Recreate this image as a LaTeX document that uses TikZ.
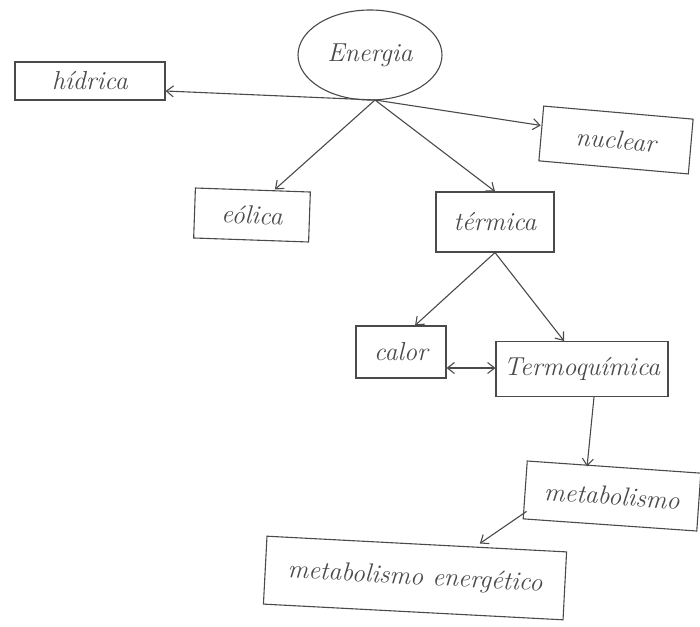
\documentclass[tikz,border=0pt]{standalone}
\usepackage{fontspec}
\usepackage{tikz}
\usetikzlibrary{shapes.geometric,arrows.meta,calc}
\definecolor{pencil}{HTML}{4A4A4A}
\begin{document}
\begin{tikzpicture}[x=1pt,y=-1pt,
  box/.style={draw=pencil,line width=1.1pt,rectangle,inner sep=2pt,text=pencil,font=\fontsize{26}{30}\selectfont\itshape},
  arr/.style={draw=pencil,line width=1.1pt,-{Straight Barb[length=7pt,width=11pt]}}]
\useasboundingbox (0,0) rectangle (700,626);
\node[box,ellipse,minimum width=144pt,minimum height=90pt,inner sep=0pt] (energia) at (370,55) {Energia};
\node[box,minimum width=150pt,minimum height=38pt] (hidrica) at (90,81) {hídrica};
\node[box,minimum width=150pt,minimum height=55pt,rotate=-5] (nuclear) at (616,140) {nuclear};
\node[box,minimum width=115pt,minimum height=50pt,rotate=-2] (eolica) at (252,215) {eólica};
\node[box,minimum width=118pt,minimum height=60pt] (termica) at (495,222) {térmica};
\node[box,minimum width=90pt,minimum height=52pt] (calor) at (401,352) {calor};
\node[box,minimum width=172pt,minimum height=55pt,inner sep=0pt] (termo) at (582,369) {Termoquímica};
\node[box,minimum width=174pt,minimum height=58pt,rotate=-4,inner sep=0pt] (metab) at (612,496) {metabolismo};
\node[box,minimum width=300pt,minimum height=68pt,rotate=-3,inner sep=0pt] (metabe) at (415,578) {metabolismo energético};
\coordinate (hub) at (375,100);
\draw[arr] (hub) -- ([yshift=-10pt]hidrica.east);
\draw[arr] (hub) -- ([yshift=8pt]nuclear.west);
\draw[arr] (hub) -- ([xshift=22pt]eolica.north);
\draw[arr] (hub) -- (termica.north);
\draw[arr] (termica.south) -- ([xshift=14pt]calor.north);
\draw[arr] (termica.south) -- ([xshift=-18pt]termo.north);
\draw[arr,{Straight Barb[length=7pt,width=11pt]}-{Straight Barb[length=7pt,width=11pt]}] ([yshift=-16pt]calor.east) -- ([yshift=-16pt]calor.east -| termo.west);
\draw[arr] ([xshift=12pt]termo.south) -- ([xshift=-27pt]metab.north);
\draw[arr] ([shift={(4pt,8pt)}]metab.south west) -- ([xshift=63pt]metabe.north);
\end{tikzpicture}
\end{document}
